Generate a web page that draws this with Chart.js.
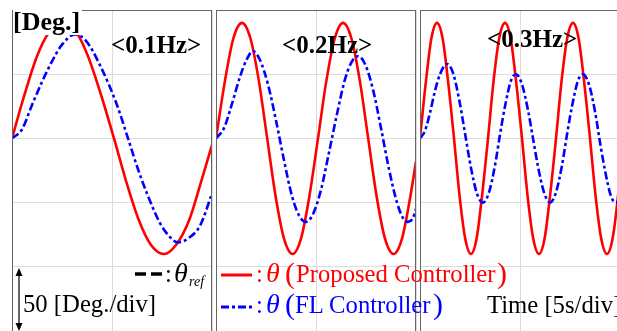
<!DOCTYPE html>
<html>
<head>
<meta charset="utf-8">
<script src="https://cdn.jsdelivr.net/npm/chart.js@4/dist/chart.umd.min.js"></script>
<style>
  html, body { margin: 0; padding: 0; background: #fff; }
  body { width: 617px; height: 331px; overflow: hidden; position: relative; font-family: "Liberation Serif", "DejaVu Serif", serif; }
  canvas { position: absolute; }
  .txt { position: absolute; white-space: nowrap; line-height: 1; z-index: 2; }
  .hz { font-weight: bold; font-size: 25px; color: #000; }
  .leg { font-size: 24.7px; }
  .red { color: #ff0000; }
  .blue { color: #0000ff; }
  .th { font-style: italic; font-size: 28px; }
  .par { font-size: 30px; }
  svg { position: absolute; z-index: 2; overflow: visible; }
</style>
</head>
<body>
<canvas id="p1" width="202" height="323" style="left:11px;top:9px"></canvas>
<canvas id="p2" width="202" height="323" style="left:215px;top:9px"></canvas>
<canvas id="p3" width="202" height="323" style="left:419px;top:9px"></canvas>

<div class="txt hz" style="left:13px;top:9px;font-size:26px;background:#fff;padding-right:2px">[Deg.]</div>
<div class="txt hz" style="left:111px;top:32px">&lt;0.1Hz&gt;</div>
<div class="txt hz" style="left:282px;top:32px">&lt;0.2Hz&gt;</div>
<div class="txt hz" style="left:487px;top:26px">&lt;0.3Hz&gt;</div>

<!-- legend samples and scale arrow -->
<svg style="left:0;top:0" width="617" height="331">
  <line x1="135" y1="274" x2="146" y2="274" stroke="#000" stroke-width="3.5"/>
  <line x1="151" y1="274" x2="162" y2="274" stroke="#000" stroke-width="3.5"/>
  <line x1="221" y1="275" x2="252" y2="275" stroke="#ff0000" stroke-width="3"/>
  <line x1="221" y1="307" x2="252" y2="307" stroke="#0000ff" stroke-width="3" stroke-dasharray="8,3,3,3"/>
  <line x1="19" y1="271" x2="19" y2="329" stroke="#000" stroke-width="1.2"/>
  <path d="M15.5,276 L19,268 L22.5,276 Z" fill="#000"/>
  <path d="M15.5,323 L19,331 L22.5,323 Z" fill="#000"/>
</svg>
<div class="txt leg" style="left:165px;top:262px">:</div>
<div class="txt th" style="left:174px;top:259px">θ</div>
<div class="txt" style="left:189px;top:275px;font-size:14px;font-style:italic">ref</div>

<div class="txt leg red" style="left:256px;top:262px">:</div>
<div class="txt red th" style="left:266px;top:259px">θ</div>
<div class="txt red par" style="left:285px;top:258px">(</div>
<div class="txt leg red" style="left:296px;top:262px">Proposed Controller</div>
<div class="txt red par" style="left:497px;top:258px">)</div>

<div class="txt leg blue" style="left:256px;top:293px">:</div>
<div class="txt blue th" style="left:266px;top:290px">θ</div>
<div class="txt blue par" style="left:285px;top:289px">(</div>
<div class="txt leg blue" style="left:295px;top:293px">FL Controller</div>
<div class="txt blue par" style="left:433px;top:289px">)</div>

<div class="txt leg" style="left:23px;top:292px">50 [Deg./div]</div>
<div class="txt leg" style="left:487px;top:293px">Time [5s/div]</div>

<script>
/* ── Data: time [s] and angle [deg] ── */

// 0.1 Hz
const t1Red = [0, 0.625, 1.25, 1.875, 2.55, 3.2, 3.8, 4.45, 5.1, 5.7, 6.35, 6.95, 7.6, 8.2, 8.85, 9.45, 10];
const red1 = [0, 34, 64, 83, 90, 83, 64, 34, 0, -33, -64, -83, -90, -83, -64, -34, -5];
const t1Blue = [0, 0.5, 1.0, 1.5, 2.0, 2.5, 3.15, 3.7, 4.4, 5.25, 5.8, 6.3, 6.75, 7.4, 7.85, 8.3, 8.8, 9.4, 10];
const blue1 = [0, 7, 26, 44, 60, 73, 81, 76, 57, 26, 0, -24, -43, -66, -76, -81, -78, -68, -43];

// 0.2 Hz
const t2Red = [0, 0.45, 0.87, 1.3, 1.72, 2.14, 2.56, 2.98, 3.4, 3.83, 4.25, 4.67, 5.1, 5.52, 5.94, 6.35, 6.77, 7.19, 7.61, 8.03, 8.45, 8.88, 9.3, 9.72, 10];
const red2 = [0, 45, 78, 90, 78, 45, 0, -45, -78, -90, -78, -45, 0, 45, 78, 90, 78, 45, 0, -45, -78, -90, -78, -45, -18];
const t2Blue = [0, 0.4, 0.8, 1.2, 1.55, 1.85, 2.2, 2.6, 3.0, 3.4, 3.8, 4.15, 4.5, 4.85, 5.25, 5.65, 6.05, 6.45, 6.8, 7.1, 7.45, 7.85, 8.25, 8.65, 9.05, 9.35, 9.6, 9.85, 10];
const blue2 = [0, 8, 27, 48, 62, 68, 61, 42, 14, -17, -45, -60, -65, -59, -40, -11, 19, 46, 60, 64, 58, 38, 8, -24, -50, -62, -65, -62, -55];

// 0.3 Hz
const t3Red = [0, 0.3, 0.57, 0.85, 1.13, 1.4, 1.7, 1.98, 2.26, 2.55, 2.83, 3.1, 3.4, 3.68, 3.96, 4.25, 4.53, 4.8, 5.1, 5.38, 5.66, 5.95, 6.23, 6.5, 6.8, 7.08, 7.36, 7.65, 7.93, 8.2, 8.5, 8.78, 9.06, 9.35, 9.63, 9.9, 10];
const red3 = [0, 45, 78, 90, 78, 45, 0, -45, -78, -90, -78, -45, 0, 45, 78, 90, 78, 45, 0, -45, -78, -90, -78, -45, 0, 45, 78, 90, 78, 45, 0, -45, -78, -90, -78, -45, -28];
const t3Blue = [0, 0.25, 0.5, 0.75, 1.0, 1.35, 1.65, 1.95, 2.25, 2.55, 2.85, 3.15, 3.45, 3.75, 4.0, 4.25, 4.55, 4.8, 5.1, 5.4, 5.65, 5.9, 6.2, 6.5, 6.8, 7.1, 7.35, 7.6, 7.9, 8.15, 8.45, 8.75, 9.0, 9.25, 9.55, 9.8, 10];
const blue3 = [0, 6, 20, 37, 50, 58, 51, 31, 4, -23, -43, -50, -42, -21, 3, 25, 45, 50, 42, 22, 0, -22, -42, -50, -42, -21, 3, 25, 45, 50, 42, 21, -3, -25, -45, -50, -47];

/* ── Panel frame ── */
const framePlugin = {
  id: 'frame',
  afterDraw(chart) {
    const a = chart.chartArea;
    const ctx = chart.ctx;
    ctx.save();
    ctx.strokeStyle = '#666';
    ctx.lineWidth = 1;
    ctx.strokeRect(Math.round(a.left) + 0.5, Math.round(a.top) + 0.5, Math.round(a.right - a.left) - 1, Math.round(a.bottom - a.top));
    ctx.restore();
  }
};

function pts(ts, vs) {
  return ts.map((t, i) => ({ x: t, y: vs[i] }));
}

function makePanel(id, tr, vr, tb, vb) {
  return new Chart(document.getElementById(id), {
    type: 'line',
    data: {
      datasets: [
        {
          data: pts(tb, vb),
          borderColor: '#0000ff',
          borderWidth: 2.6,
          borderDash: [8, 3, 3, 3],
          cubicInterpolationMode: 'monotone',
          pointRadius: 0,
          fill: false
        },
        {
          data: pts(tr, vr),
          borderColor: '#ff0000',
          borderWidth: 2.6,
          cubicInterpolationMode: 'monotone',
          pointRadius: 0,
          fill: false
        }
      ]
    },
    options: {
      responsive: false,
      animation: false,
      devicePixelRatio: 1,
      layout: { padding: 1 },
      plugins: { legend: { display: false }, tooltip: { enabled: false } },
      scales: {
        x: {
          type: 'linear', min: 0, max: 10,
          ticks: { display: false, stepSize: 5 },
          grid: { color: '#dcdcdc', drawTicks: false },
          border: { display: false }
        },
        y: {
          type: 'linear', min: -150, max: 100,
          ticks: { display: false, stepSize: 50 },
          grid: { color: '#dcdcdc', drawTicks: false },
          border: { display: false }
        }
      }
    },
    plugins: [framePlugin]
  });
}

makePanel('p1', t1Red, red1, t1Blue, blue1);
makePanel('p2', t2Red, red2, t2Blue, blue2);
makePanel('p3', t3Red, red3, t3Blue, blue3);
</script>
</body>
</html>
